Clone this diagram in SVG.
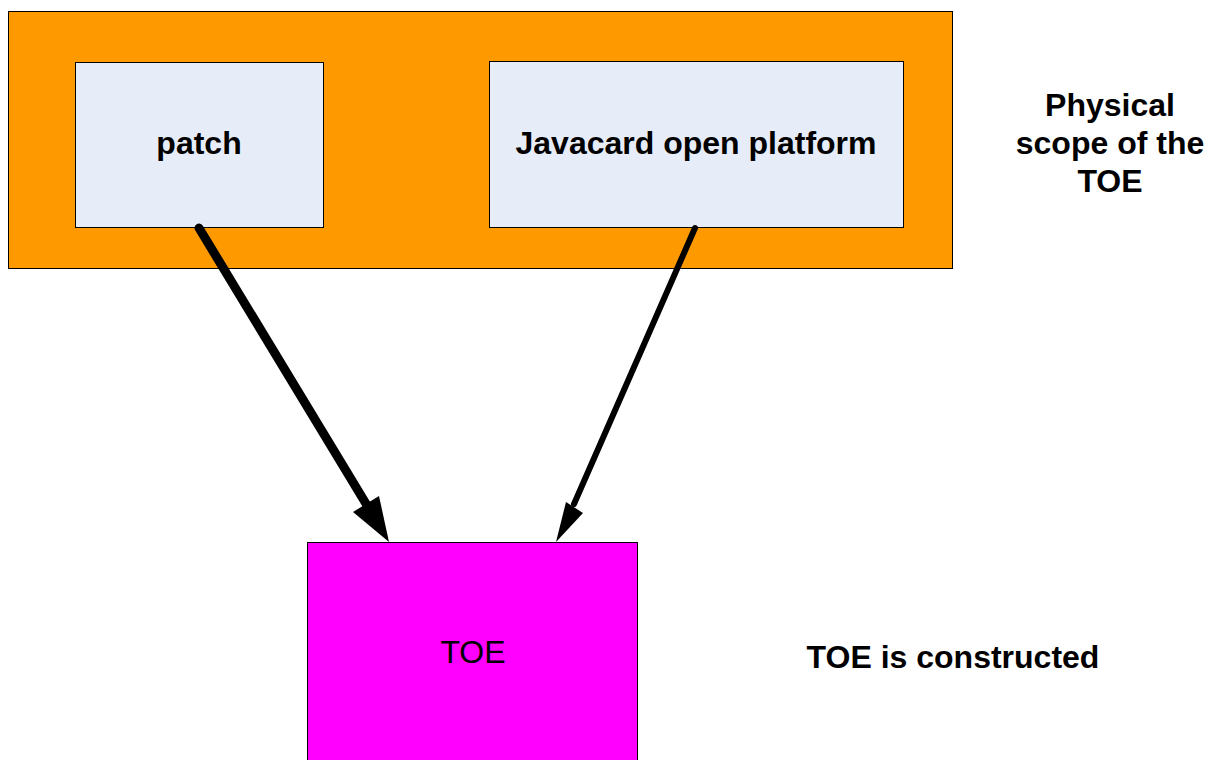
<svg xmlns="http://www.w3.org/2000/svg" width="1208" height="760" viewBox="0 0 1208 760">
<style>
.box{stroke:#000;stroke-width:1}
.t{font-family:"Liberation Sans",Arial,sans-serif;font-size:32px;fill:#000;text-anchor:middle}
.b{font-weight:bold}
.ln{stroke:#000;fill:none;stroke-linecap:round}
</style>
<rect width="1208" height="760" fill="#fff"/>
<g id="scope">
<rect class="box" x="8.5" y="11.5" width="944" height="257" fill="#FF9900" stroke="#5a3a00"/>
</g>
<g id="patch">
<rect class="box" x="75.5" y="62.5" width="248" height="165" fill="#E6ECF8"/>
<text class="t b" x="199" y="154">patch</text>
</g>
<g id="javacard">
<rect class="box" x="489.5" y="61.5" width="414" height="166" fill="#E6ECF8"/>
<text class="t b" x="696" y="154">Javacard open platform</text>
</g>
<g id="toe">
<rect class="box" x="307.5" y="542.5" width="330" height="230" fill="#FF00FF" stroke="#5a005a"/>
<text class="t" x="473" y="663">TOE</text>
</g>
<g id="scope-label">
<text class="t b" x="1110" y="116">Physical</text>
<text class="t b" x="1110" y="154">scope of the</text>
<text class="t b" x="1110" y="192">TOE</text>
</g>
<g id="toe-label">
<text class="t b" x="953" y="668">TOE is constructed</text>
</g>
<g id="connectors">
<line class="ln" x1="199" y1="228" x2="368" y2="507" stroke-width="9"/>
<polygon points="389,542 353,512 379,496" fill="#000"/>
<line class="ln" x1="695" y1="228" x2="574" y2="504" stroke-width="6"/>
<polygon points="556,542 566,502 583,513" fill="#000"/>
</g>
</svg>
